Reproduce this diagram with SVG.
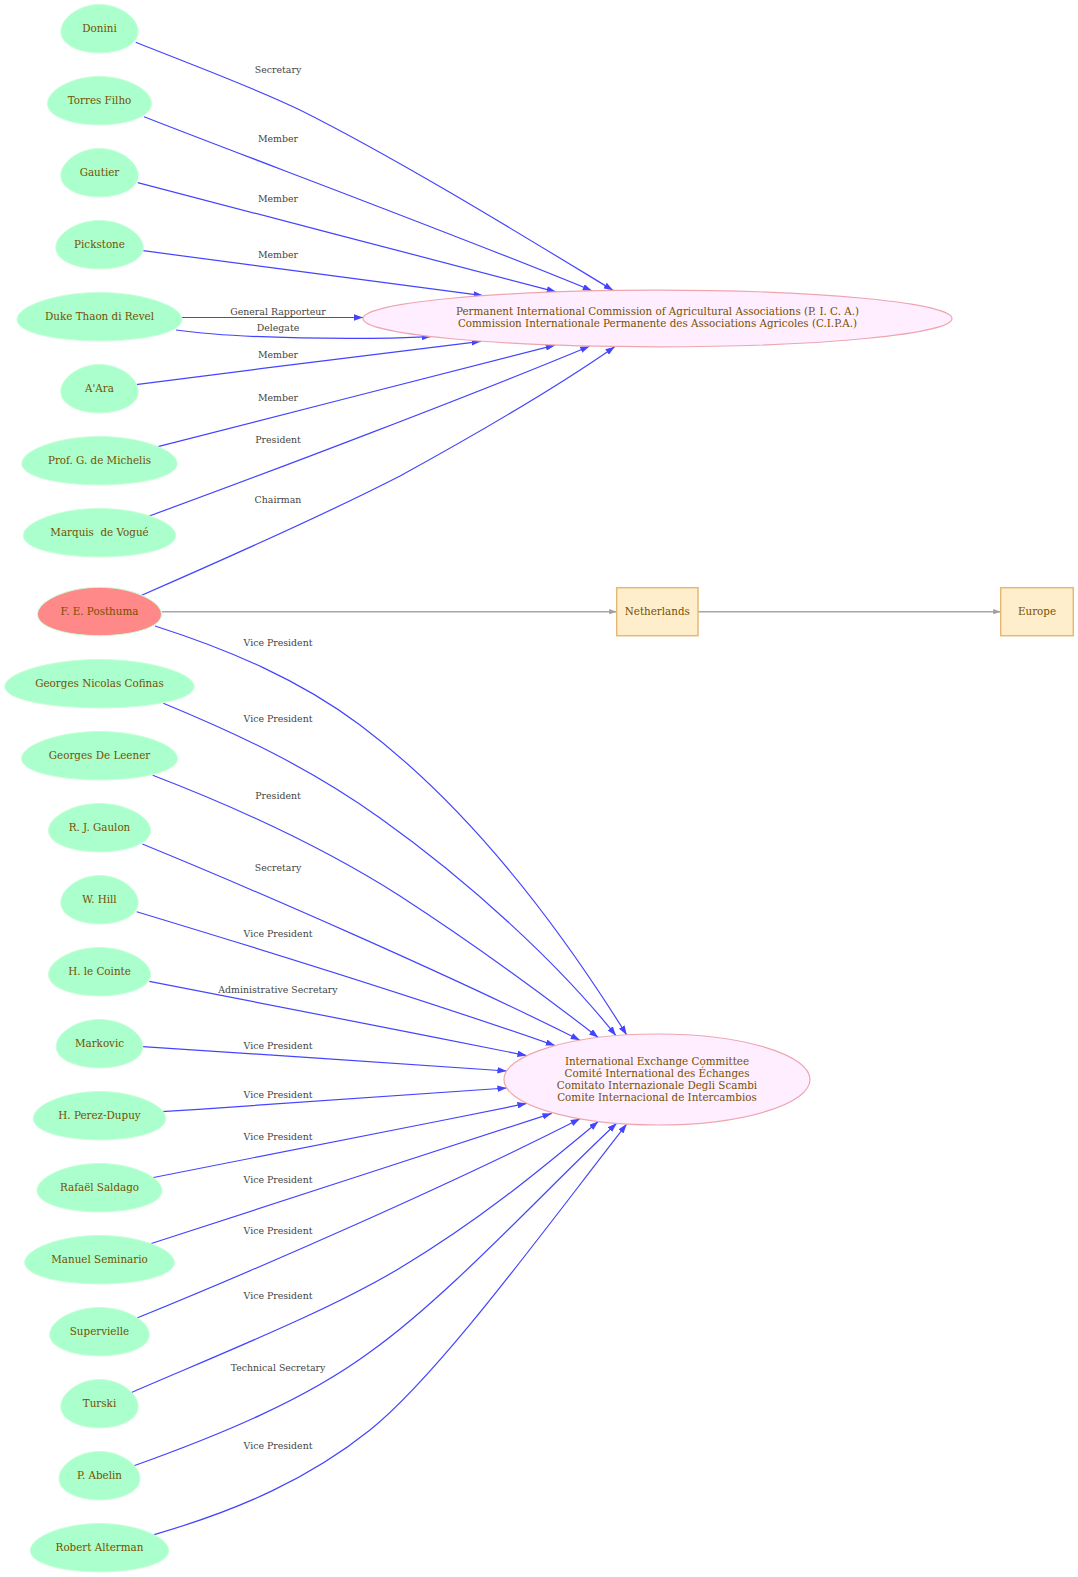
<svg xmlns="http://www.w3.org/2000/svg" xmlns:xlink="http://www.w3.org/1999/xlink" width="1078" height="1577" viewBox="0 0 1078 1577">
<style>
.bg{fill:#ffffff}
.egg{fill:#aaffcc;stroke:#c8ffd8;stroke-width:1}
.hot{fill:#ff8888;stroke:#c8ffd8;stroke-width:1}
.org{fill:#ffeeff;stroke:#eea6ae;stroke-width:1.2}
.box{fill:#ffeecc;stroke:#e6b874;stroke-width:1.5}
.nt{font-family:"DejaVu Serif","Liberation Serif",serif;font-size:10.35px;fill:#765000;text-anchor:middle}
.et{font-family:"DejaVu Serif","Liberation Serif",serif;font-size:9.4px;fill:#444444;text-anchor:middle}
.e{fill:none;stroke:#4444ff;stroke-width:1.2;marker-end:url(#ab)}
.g{fill:none;stroke:#a6a6a6;stroke-width:1.4;marker-end:url(#ag)}
</style>
<defs>
<path id="egg" vector-effect="non-scaling-stroke" d="M.9930,0 C1.0246,.2652 .9479,.5196 .7617,.7071 C.5755,.8946 .2950,1 0,1 C-.2950,1 -.5755,.8946 -.7617,.7071 C-.9479,.5196 -1.0246,.2652 -.9930,0 C-.9614,-.2652 -.8288,-.5196 -.6426,-.7071 C-.4564,-.8946 -.2318,-1 0,-1 C.2318,-1 .4564,-.8946 .6426,-.7071 C.8288,-.5196 .9614,-.2652 .9930,0 Z"/>
<marker id="ab" viewBox="0 0 10 7" refX="10" refY="3.5" markerWidth="9.3" markerHeight="6.5" markerUnits="userSpaceOnUse" orient="auto"><path d="M0,0L10,3.5L0,7z" fill="#4444ff"/></marker>
<marker id="ag" viewBox="0 0 10 7" refX="10" refY="3.5" markerWidth="7.5" markerHeight="5.3" markerUnits="userSpaceOnUse" orient="auto"><path d="M0,0L10,3.5L0,7z" fill="#a0a0a0"/></marker>
</defs>
<rect class="bg" x="0" y="0" width="1078" height="1577"/>
<g id="edges">
<path class="e" d="M135.7,42.3 C200,68 250,86 300,110 C400,160 530,240 613,290.3"/>
<text class="et" x="278" y="73">Secretary</text>
<path class="e" d="M144,116.7 C260,162 470,240 592,290.7"/>
<text class="et" x="278" y="141.6">Member</text>
<path class="e" d="M137.7,182.7 C270,217 430,259 556,291.8"/>
<text class="et" x="278" y="201.6">Member</text>
<path class="e" d="M143.3,250.7 C250,265 380,282 483,295.6"/>
<text class="et" x="278" y="257.6">Member</text>
<path class="e" d="M181.7,317.5 L363.2,317.5"/>
<text class="et" x="278" y="315">General Rapporteur</text>
<path class="e" d="M176,330 C240,339 360,340 431,336.6"/>
<text class="et" x="278" y="331">Delegate</text>
<path class="e" d="M136,384.7 C250,370 390,352 481,341.3"/>
<text class="et" x="278" y="357.6">Member</text>
<path class="e" d="M155,447.3 C270,418 450,372 555,345.2"/>
<text class="et" x="278" y="400.6">Member</text>
<path class="e" d="M147.3,516.7 C270,472 480,392 589.5,346.2"/>
<text class="et" x="278" y="442.6">President</text>
<path class="e" d="M140,596 C250,548 330,512 400,476 C480,432 560,385 614.7,346.7"/>
<text class="et" x="278" y="502.6">Chairman</text>
<path class="g" d="M161.7,611.7 L616.7,611.7"/>
<path class="g" d="M698,611.7 L1000.7,611.7"/>
<path class="e" d="M155,626 C230,650 300,680 360,725 C440,785 530,880 626.7,1034.9"/>
<text class="et" x="278" y="645.6">Vice President</text>
<path class="e" d="M163.3,703.3 C240,735 310,768 380,818 C470,882 560,965 616,1035.7"/>
<text class="et" x="278" y="722.3">Vice President</text>
<path class="e" d="M152.7,775.3 C230,805 320,845 400,896 C480,948 550,1000 598.3,1037.5"/>
<text class="et" x="278" y="798.6">President</text>
<path class="e" d="M142.3,844 C250,888 450,975 580,1040.2"/>
<text class="et" x="278" y="871">Secretary</text>
<path class="e" d="M136.7,911.7 C270,952 430,1002 555,1045.6"/>
<text class="et" x="278" y="936.6">Vice President</text>
<path class="e" d="M149.3,981.3 C270,1005 400,1030 526.7,1055.6"/>
<text class="et" x="278" y="992.6">Administrative Secretary</text>
<path class="e" d="M142.7,1046.7 C260,1054 390,1063 506.7,1071"/>
<text class="et" x="278" y="1048.6">Vice President</text>
<path class="e" d="M161.7,1111.7 C280,1104 400,1096 506.7,1088"/>
<text class="et" x="278" y="1097.6">Vice President</text>
<path class="e" d="M151,1178 C270,1155 400,1129 526.7,1103.4"/>
<text class="et" x="278" y="1140">Vice President</text>
<path class="e" d="M149,1244.3 C280,1202 420,1156 551.7,1113.4"/>
<text class="et" x="278" y="1182.6">Vice President</text>
<path class="e" d="M136.3,1318.3 C260,1268 450,1185 580,1118.8"/>
<text class="et" x="278" y="1233.6">Vice President</text>
<path class="e" d="M131,1392.7 C230,1350 330,1310 400,1268 C480,1220 540,1170 598.3,1121.5"/>
<text class="et" x="278" y="1298.6">Vice President</text>
<path class="e" d="M133.3,1466 C220,1435 305,1400 370,1352 C450,1295 550,1185 616.7,1123.3"/>
<text class="et" x="278" y="1370.6">Technical Secretary</text>
<path class="e" d="M151.7,1535.3 C240,1510 310,1478 370,1430 C440,1374 550,1222 626.7,1124.1"/>
<text class="et" x="278" y="1448.6">Vice President</text>
</g>
<g id="pica"><ellipse class="org" cx="657.5" cy="318.5" rx="294.5" ry="28.3"/><text class="nt" x="657.5" y="315"><tspan x="657.5">Permanent International Commission of Agricultural Associations (P. I. C. A.)</tspan><tspan x="657.5" dy="12.1">Commission Internationale Permanente des Associations Agricoles (C.I.P.A.)</tspan></text></g>
<g id="iec"><ellipse class="org" cx="657" cy="1079.5" rx="153" ry="45.5"/><text class="nt" y="1064.8"><tspan x="657">International Exchange Committee</tspan><tspan x="657" dy="12.1">Comité International des Échanges</tspan><tspan x="657" dy="12.1">Comitato Internazionale Degli Scambi</tspan><tspan x="657" dy="12.1">Comite Internacional de Intercambios</tspan></text></g>
<g id="netherlands"><rect class="box" x="616.7" y="587.7" width="81.3" height="48"/><text class="nt" x="657.3" y="615.4">Netherlands</text></g>
<g id="europe"><rect class="box" x="1000.7" y="587.7" width="72.6" height="48"/><text class="nt" x="1037" y="615.4">Europe</text></g>
<g id="donini"><use xlink:href="#egg" class="egg" transform="translate(99.5,28.7) scale(38.6,24.2)"/><text class="nt" x="99.5" y="32.2">Donini</text></g>
<g id="torres"><use xlink:href="#egg" class="egg" transform="translate(99.5,100.7) scale(52,24.2)"/><text class="nt" x="99.5" y="104.2">Torres Filho</text></g>
<g id="gautier"><use xlink:href="#egg" class="egg" transform="translate(99.5,172.7) scale(38.7,24.2)"/><text class="nt" x="99.5" y="176.2">Gautier</text></g>
<g id="pickstone"><use xlink:href="#egg" class="egg" transform="translate(99.5,244.7) scale(43.7,24.2)"/><text class="nt" x="99.5" y="248.2">Pickstone</text></g>
<g id="duke"><use xlink:href="#egg" class="egg" transform="translate(99.5,316.7) scale(82.5,24.2)"/><text class="nt" x="99.5" y="320.2">Duke Thaon di Revel</text></g>
<g id="aara"><use xlink:href="#egg" class="egg" transform="translate(99.5,388.7) scale(38.7,24.2)"/><text class="nt" x="99.5" y="392.2">A'Ara</text></g>
<g id="michelis"><use xlink:href="#egg" class="egg" transform="translate(99.5,460.7) scale(77.7,24.2)"/><text class="nt" x="99.5" y="464.2">Prof. G. de Michelis</text></g>
<g id="vogue"><use xlink:href="#egg" class="egg" transform="translate(99.5,532.7) scale(76.2,24.2)"/><text class="nt" x="99.5" y="536.2" xml:space="preserve">Marquis  de Vogué</text></g>
<g id="posthuma"><use xlink:href="#egg" class="hot" transform="translate(99.5,611.5) scale(62,24.2)"/><text class="nt" x="99.5" y="615">F. E. Posthuma</text></g>
<g id="cofinas"><use xlink:href="#egg" class="egg" transform="translate(99.5,683.7) scale(94.7,24.2)"/><text class="nt" x="99.5" y="687.2">Georges Nicolas Cofinas</text></g>
<g id="deleener"><use xlink:href="#egg" class="egg" transform="translate(99.5,755.7) scale(78,24.2)"/><text class="nt" x="99.5" y="759.2">Georges De Leener</text></g>
<g id="gaulon"><use xlink:href="#egg" class="egg" transform="translate(99.5,827.7) scale(51,24.2)"/><text class="nt" x="99.5" y="831.2">R. J. Gaulon</text></g>
<g id="hill"><use xlink:href="#egg" class="egg" transform="translate(99.5,899.7) scale(38.7,24.2)"/><text class="nt" x="99.5" y="903.2">W. Hill</text></g>
<g id="lecointe"><use xlink:href="#egg" class="egg" transform="translate(99.5,971.7) scale(51,24.2)"/><text class="nt" x="99.5" y="975.2">H. le Cointe</text></g>
<g id="markovic"><use xlink:href="#egg" class="egg" transform="translate(99.5,1043.7) scale(43.3,24.2)"/><text class="nt" x="99.5" y="1047.2">Markovic</text></g>
<g id="perez"><use xlink:href="#egg" class="egg" transform="translate(99.5,1115.7) scale(66.3,24.2)"/><text class="nt" x="99.5" y="1119.2">H. Perez-Dupuy</text></g>
<g id="saldago"><use xlink:href="#egg" class="egg" transform="translate(99.5,1187.7) scale(62.5,24.2)"/><text class="nt" x="99.5" y="1191.2">Rafaël Saldago</text></g>
<g id="seminario"><use xlink:href="#egg" class="egg" transform="translate(99.5,1259.7) scale(74.8,24.2)"/><text class="nt" x="99.5" y="1263.2">Manuel Seminario</text></g>
<g id="supervielle"><use xlink:href="#egg" class="egg" transform="translate(99.5,1331.7) scale(49.8,24.2)"/><text class="nt" x="99.5" y="1335.2">Supervielle</text></g>
<g id="turski"><use xlink:href="#egg" class="egg" transform="translate(99.5,1403.7) scale(38.7,24.2)"/><text class="nt" x="99.5" y="1407.2">Turski</text></g>
<g id="abelin"><use xlink:href="#egg" class="egg" transform="translate(99.5,1475.7) scale(40.5,24.2)"/><text class="nt" x="99.5" y="1479.2">P. Abelin</text></g>
<g id="alterman"><use xlink:href="#egg" class="egg" transform="translate(99.5,1547.7) scale(69.2,24.2)"/><text class="nt" x="99.5" y="1551.2">Robert Alterman</text></g>
</svg>
